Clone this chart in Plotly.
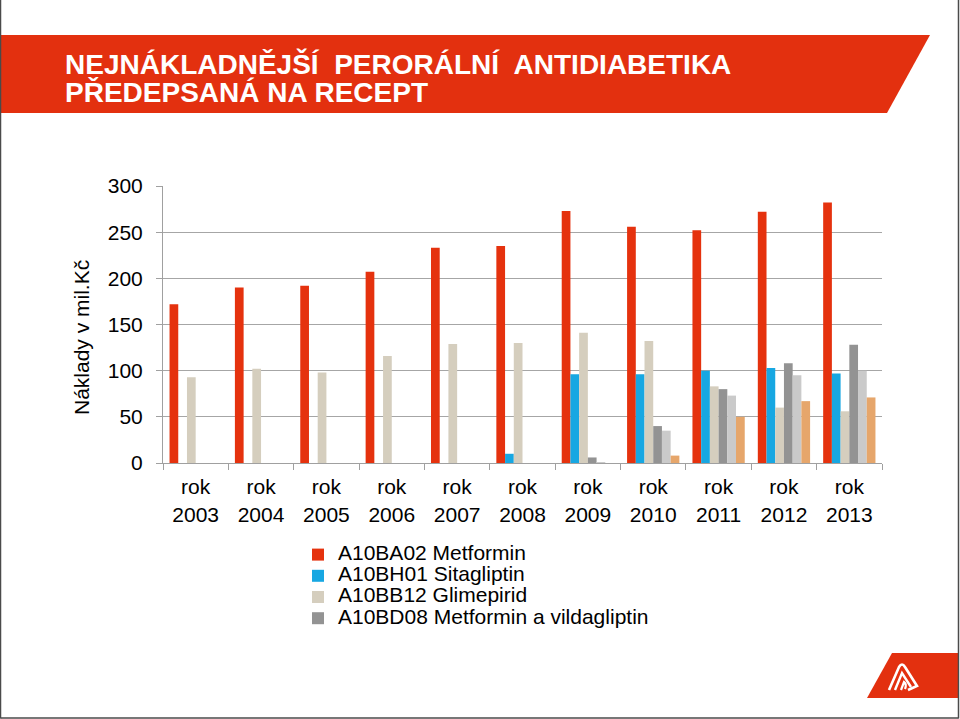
import plotly.graph_objects as go

# ---- data ----
years = ["rok<br>2003", "rok<br>2004", "rok<br>2005", "rok<br>2006", "rok<br>2007",
         "rok<br>2008", "rok<br>2009", "rok<br>2010", "rok<br>2011", "rok<br>2012", "rok<br>2013"]
metformin = [172, 190, 192, 207, 233, 235, 273, 256, 252, 272, 282]
sitagliptin = [None, None, None, None, None, 10, 96, 96, 100, 103, 97]
glimepirid = [93, 102, 98, 116, 129, 130, 141, 132, 83, 60, 56]
metf_vilda = [None, None, None, None, None, None, 6, 40, 80, 108, 128]
series5 = [None, None, None, None, None, None, 1, 35, 73, 95, 100]
series6 = [None, None, None, None, None, None, None, 8, 50, 67, 71]

names = ["A10BA02 Metformin", "A10BH01 Sitagliptin", "A10BB12 Glimepirid",
         "A10BD08 Metformin a vildagliptin", "Série 5", "Série 6"]
values = [metformin, sitagliptin, glimepirid, metf_vilda, series5, series6]
colors = ["#E5320E", "#17A7E2", "#D5CEBE", "#939393", "#CACACA", "#E6A66B"]
in_legend = [True, True, True, True, False, False]

title1 = "NEJNÁKLADNĚJŠÍ  PERORÁLNÍ  ANTIDIABETIKA"
title2 = "PŘEDEPSANÁ NA RECEPT"
ytitle = "Náklady v mil.Kč"

# ---- layout geometry (pixels) ----
W, H = 960, 719
L, R, T, B = 163, 78, 186, 256
PW, PH = W - L - R, H - T - B


def px(x):
    return (x - L) / PW


def py(y):
    return (H - B - y) / PH


FONT = "Arial, Liberation Sans, Helvetica, sans-serif"
RED = "#E3300F"

fig = go.Figure()
for n, v, c, s in zip(names, values, colors, in_legend):
    fig.add_trace(go.Bar(x=years, y=v, name=f"<span style='font-size:21px'>{n}</span>",
                         marker=dict(color=c, line=dict(width=0)), showlegend=s))

shapes = []
# title banner
shapes.append(dict(type="path", xref="paper", yref="paper",
                   path=f"M {px(1)},{py(35)} L {px(930)},{py(35)} L {px(887)},{py(113)} L {px(1)},{py(113)} Z",
                   fillcolor=RED, line=dict(width=0), layer="above"))
# logo banner bottom right
shapes.append(dict(type="path", xref="paper", yref="paper",
                   path=f"M {px(892)},{py(653)} L {px(959)},{py(653)} L {px(959)},{py(698)} L {px(867)},{py(698)} Z",
                   fillcolor=RED, line=dict(width=0), layer="above"))
# logo glyph (stylised "A" with nested chevrons)
shapes.append(dict(type="path", xref="paper", yref="paper",
                   path=(f"M {px(889)},{py(690)} L {px(899)},{py(667)} Q {px(902)},{py(662)} {px(905)},{py(667)} "
                         f"L {px(917)},{py(686)} L {px(908)},{py(690)}"),
                   line=dict(color="white", width=2.6), layer="above"))
shapes.append(dict(type="path", xref="paper", yref="paper",
                   path=(f"M {px(895)},{py(690)} L {px(902)},{py(673)} L {px(911)},{py(687)}"),
                   line=dict(color="white", width=2.4), layer="above"))
shapes.append(dict(type="path", xref="paper", yref="paper",
                   path=(f"M {px(901)},{py(690)} L {px(904)},{py(682)} Q {px(907)},{py(684)} {px(905)},{py(689)}"),
                   line=dict(color="white", width=2.2), layer="above"))
# frame lines
for (x0, y0, x1, y1) in [(0.5, 0, 0.5, 718.5), (958.5, 0, 958.5, 718.5), (0.5, 718, 958.5, 718)]:
    shapes.append(dict(type="line", xref="paper", yref="paper",
                       x0=px(x0), y0=py(y0), x1=px(x1), y1=py(y1),
                       line=dict(color="#4A4A4A", width=1.5), layer="above"))

annotations = [
    dict(text=f"<b>{title1}</b>", x=px(63), y=py(64), xref="paper", yref="paper",
         xanchor="left", yanchor="middle", showarrow=False,
         font=dict(family=FONT, size=28, color="white")),
    dict(text=f"<b>{title2}</b>", x=px(63), y=py(93), xref="paper", yref="paper",
         xanchor="left", yanchor="middle", showarrow=False,
         font=dict(family=FONT, size=28, color="white")),
    dict(text=ytitle, x=px(81), y=py(338), xref="paper", yref="paper",
         xanchor="center", yanchor="middle", showarrow=False, textangle=-90,
         font=dict(family=FONT, size=21, color="black")),
]

fig.update_layout(
    width=W, height=H,
    margin=dict(l=L, r=R, t=T, b=B, pad=0),
    paper_bgcolor="white", plot_bgcolor="white",
    barmode="group", bargap=0.2, bargroupgap=0,
    font=dict(family=FONT, size=21, color="black"),
    showlegend=True,
    legend=dict(x=px(298), y=py(539), xanchor="left", yanchor="top",
                orientation="v", font=dict(family=FONT, size=14, color="black"),
                bgcolor="rgba(0,0,0,0)", borderwidth=0, traceorder="normal",
                itemclick=False, itemdoubleclick=False),
    shapes=shapes,
    annotations=annotations,
)
fig.update_xaxes(type="category", tickson="boundaries", ticks="outside", ticklen=6,
                 tickcolor="#A0A0A0", tickwidth=1, showline=True, linecolor="#A0A0A0",
                 linewidth=1, showgrid=False, tickfont=dict(family=FONT, size=21, color="black"),
                 ticklabelstandoff=5, fixedrange=True)
fig.update_yaxes(range=[0, 300], dtick=50, ticks="outside", ticklen=6, tickcolor="#A0A0A0",
                 showline=True, linecolor="#A0A0A0", linewidth=1, showgrid=True,
                 gridcolor="#A6A6A6", gridwidth=1, zeroline=False,
                 tickfont=dict(family=FONT, size=21, color="black"),
                 ticklabelstandoff=9, fixedrange=True)

fig.write_html("out.html", config={"displayModeBar": False},
               post_script="document.body.style.margin='0';")
